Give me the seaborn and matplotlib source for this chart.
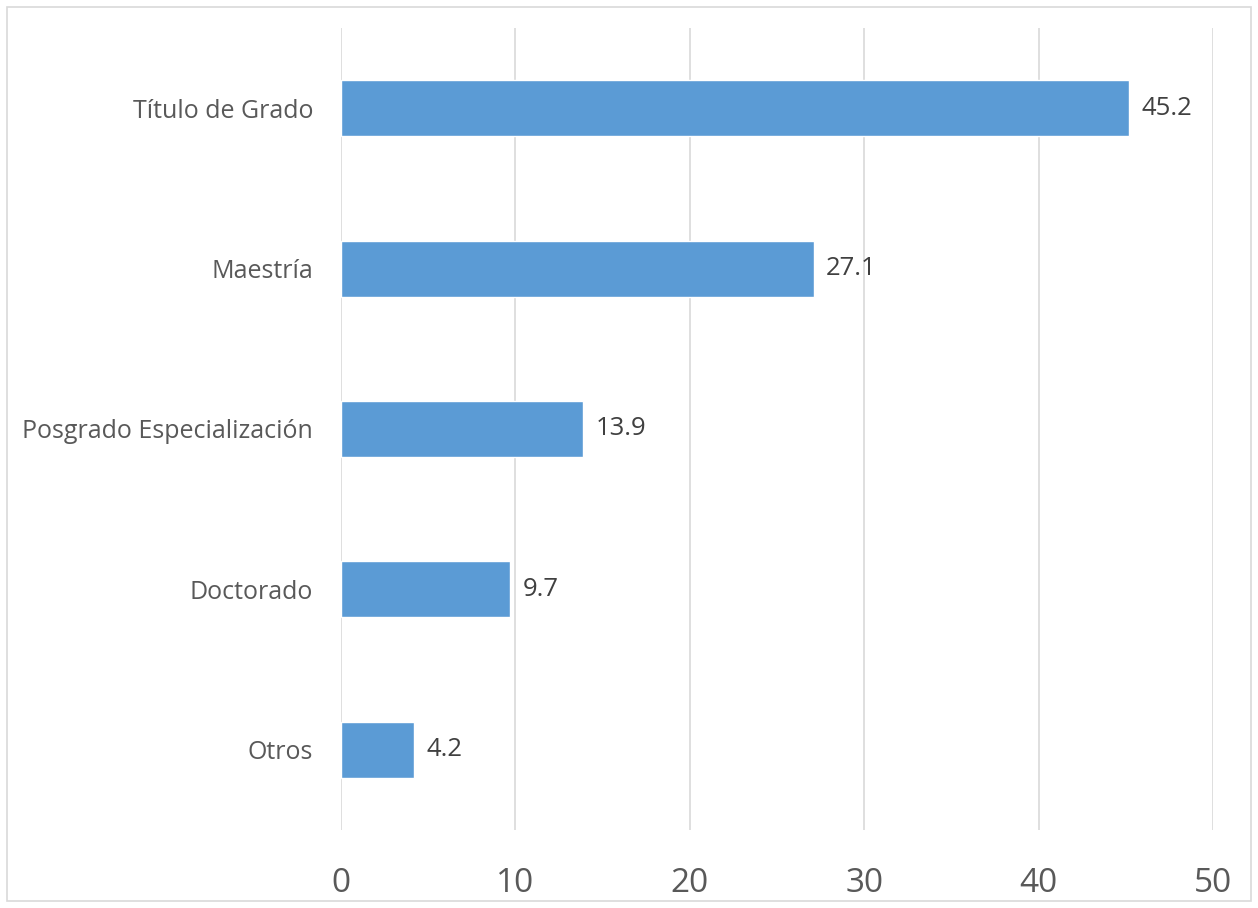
import matplotlib
matplotlib.use("Agg")
import matplotlib.pyplot as plt
import seaborn as sns
import pandas as pd
from matplotlib.patches import Rectangle

categorias = ["Título de Grado", "Maestría", "Posgrado Especialización", "Doctorado", "Otros"]
porcentajes = [45.2, 27.1, 13.9, 9.7, 4.2]
ticks_x = [0, 10, 20, 30, 40, 50]

df = pd.DataFrame({"categoria": categorias, "valor": porcentajes})

sns.set_theme(style="white")
plt.rcParams["font.family"] = ["Open Sans", "DejaVu Sans"]

texto = "#595959"
fig = plt.figure(figsize=(12.58, 9.08), dpi=100)
ax = fig.add_axes([341 / 1258, 1 - 830 / 908, (1213 - 341) / 1258, (830 - 28) / 908])

sns.barplot(data=df, x="valor", y="categoria", color="#5B9BD5", saturation=1,
            width=0.35, orient="h", ax=ax)

for i, v in enumerate(porcentajes):
    ax.text(v + 0.7, i, f"{v}", va="center", ha="left", fontsize=18.5, color="#404040")

ax.set_xlim(0, 50)
ax.set_ylim(4.5, -0.5)
ax.set_xticks(ticks_x)
ax.xaxis.grid(True, color="#D9D9D9", linewidth=1.2)
ax.set_axisbelow(True)
for s in ax.spines.values():
    s.set_visible(False)
ax.tick_params(axis="x", length=0, pad=27, labelsize=24, labelcolor=texto)
ax.tick_params(axis="y", length=0, pad=20, labelsize=18, labelcolor=texto)
ax.set_xlabel("")
ax.set_ylabel("")

fig.patches.append(Rectangle((7 / 1258, 7 / 908), 1244 / 1258, 894 / 908,
                             transform=fig.transFigure, fill=False,
                             edgecolor="#D9D9D9", linewidth=1.2))

fig.savefig("out.png", dpi=100)
